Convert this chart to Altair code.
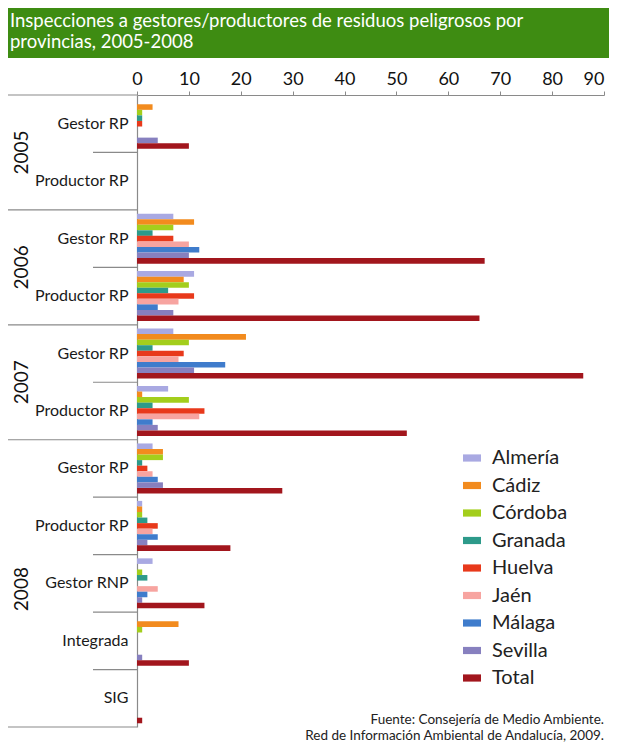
import altair as alt
import pandas as pd

provinces = ["Almería", "Cádiz", "Córdoba", "Granada", "Huelva", "Jaén", "Málaga", "Sevilla", "Total"]
colors = ["#a9a9e2", "#f28b1e", "#a3ce1c", "#2d9a8a", "#e8391b", "#f7a4a0", "#3f7ccc", "#8780bf", "#a2161d"]

categories = ["2005 Gestor RP", "2005 Productor RP", "2006 Gestor RP", "2006 Productor RP",
              "2007 Gestor RP", "2007 Productor RP", "2008 Gestor RP", "2008 Productor RP",
              "2008 Gestor RNP", "2008 Integrada", "2008 SIG"]

v_2005_gestor_rp = [0, 3, 1, 1, 1, 0, 0, 4, 10]
v_2005_productor_rp = [0, 0, 0, 0, 0, 0, 0, 0, 0]
v_2006_gestor_rp = [7, 11, 7, 3, 7, 10, 12, 10, 67]
v_2006_productor_rp = [11, 9, 10, 6, 11, 8, 4, 7, 66]
v_2007_gestor_rp = [7, 21, 10, 3, 9, 8, 17, 11, 86]
v_2007_productor_rp = [6, 1, 10, 3, 13, 12, 3, 4, 52]
v_2008_gestor_rp = [3, 5, 5, 1, 2, 3, 4, 5, 28]
v_2008_productor_rp = [1, 1, 1, 2, 4, 3, 4, 2, 18]
v_2008_gestor_rnp = [3, 0, 1, 2, 0, 4, 2, 1, 13]
v_2008_integrada = [0, 8, 1, 0, 0, 0, 0, 1, 10]
v_2008_sig = [0, 0, 0, 0, 0, 0, 0, 0, 1]

all_values = [v_2005_gestor_rp, v_2005_productor_rp, v_2006_gestor_rp, v_2006_productor_rp,
              v_2007_gestor_rp, v_2007_productor_rp, v_2008_gestor_rp, v_2008_productor_rp,
              v_2008_gestor_rnp, v_2008_integrada, v_2008_sig]

x_ticks = [0, 10, 20, 30, 40, 50, 60, 70, 80, 90]

year_starts = ["2005 Gestor RP", "2006 Gestor RP", "2007 Gestor RP", "2008 Gestor RP"]
inner_starts = ["2005 Productor RP", "2006 Productor RP", "2007 Productor RP",
                "2008 Productor RP", "2008 Gestor RNP", "2008 Integrada", "2008 SIG"]
years_two = ["2005", "2006", "2007"]
years_two_anchor = ["2005 Gestor RP", "2006 Gestor RP", "2007 Gestor RP"]
title_lines = ["Inspecciones a gestores/productores de residuos peligrosos por",
               "provincias, 2005-2008"]
footer_lines = ["Fuente: Consejería de Medio Ambiente.",
                "Red de Información Ambiental de Andalucía, 2009."]

FONT = "Lato"
W, H = 467, 632

rows = []
for c, vals in zip(categories, all_values):
    for p, v in zip(provinces, vals):
        rows.append({"cat": c, "prov": p, "value": v})
df = pd.DataFrame(rows)

yscale = alt.Scale(domain=categories, paddingInner=0, paddingOuter=0)
yaxis = alt.Axis(title=None, ticks=False, domainColor="#8a8a8a", domainWidth=1.2,
                 labelExpr="slice(datum.label, 5)", labelFontSize=16,
                 labelFont=FONT, labelColor="#1a1a1a", labelPadding=9)

bars = alt.Chart(df).mark_bar().encode(
    x=alt.X("value:Q", scale=alt.Scale(domain=[0, 90], nice=False),
            axis=alt.Axis(orient="top", values=x_ticks, title=None, grid=False,
                          domainColor="#8a8a8a", tickColor="#8a8a8a", tickSize=4,
                          labelFontSize=18, labelFont=FONT, labelColor="#111111",
                          labelPadding=3,
                          labelAlign=alt.condition("datum.value == 90", alt.value("right"),
                                                   alt.value("center")))),
    y=alt.Y("cat:N", scale=yscale, axis=yaxis),
    yOffset=alt.YOffset("prov:N", sort=provinces,
                        scale=alt.Scale(domain=provinces, paddingInner=0, paddingOuter=0.67)),
    color=alt.Color("prov:N", sort=provinces,
                    scale=alt.Scale(domain=provinces, range=colors),
                    legend=alt.Legend(orient="none", legendX=325, legendY=353, title=None,
                                      symbolType="M-1,-0.4H1V0.4H-1Z", symbolSize=324,
                                      symbolStrokeWidth=0, labelFontSize=20, labelFont=FONT,
                                      labelColor="#222222", rowPadding=7.5, labelOffset=10)),
)

year_rules = alt.Chart(pd.DataFrame({"cat": year_starts})).mark_rule(
    color="#8a8a8a", strokeWidth=1.2).encode(
    y=alt.Y("cat:N", scale=yscale, bandPosition=0, axis=yaxis),
    x=alt.value(-137), x2=alt.value(0))

bottom_rule = alt.Chart(pd.DataFrame({"cat": ["2008 SIG"]})).mark_rule(
    color="#8a8a8a", strokeWidth=1.2).encode(
    y=alt.Y("cat:N", scale=yscale, bandPosition=1, axis=yaxis),
    x=alt.value(-137), x2=alt.value(0))

inner_rules = alt.Chart(pd.DataFrame({"cat": inner_starts})).mark_rule(
    color="#8a8a8a", strokeWidth=1.2).encode(
    y=alt.Y("cat:N", scale=yscale, bandPosition=0, axis=yaxis),
    x=alt.value(-44), x2=alt.value(0))

year_text_a = alt.Chart(pd.DataFrame({"cat": years_two_anchor, "year": years_two})).mark_text(
    angle=270, fontSize=19, font=FONT, color="#111111", align="center", baseline="middle").encode(
    y=alt.Y("cat:N", scale=yscale, bandPosition=1, axis=yaxis),
    x=alt.value(-115), text="year:N")

year_text_b = alt.Chart(pd.DataFrame({"cat": ["2008 Gestor RNP"], "year": ["2008"]})).mark_text(
    angle=270, fontSize=19, font=FONT, color="#111111", align="center", baseline="middle").encode(
    y=alt.Y("cat:N", scale=yscale, bandPosition=0.6, axis=yaxis),
    x=alt.value(-115), text="year:N")

banner = alt.Chart(pd.DataFrame({"k": [0]})).mark_rect(color="#3e8c12").encode(
    x=alt.value(-129), x2=alt.value(472), y=alt.value(-87), y2=alt.value(-37))

title1 = alt.Chart(pd.DataFrame({"t": [title_lines[0]]})).mark_text(
    align="left", baseline="alphabetic", fontSize=18.5, font=FONT, color="white").encode(
    x=alt.value(-127), y=alt.value(-68), text="t:N")
title2 = alt.Chart(pd.DataFrame({"t": [title_lines[1]]})).mark_text(
    align="left", baseline="alphabetic", fontSize=18.5, font=FONT, color="white").encode(
    x=alt.value(-127), y=alt.value(-47), text="t:N")

foot1 = alt.Chart(pd.DataFrame({"t": [footer_lines[0]]})).mark_text(
    align="right", baseline="alphabetic", fontSize=13.5, font=FONT, color="#222222").encode(
    x=alt.value(W), y=alt.value(629), text="t:N")
foot2 = alt.Chart(pd.DataFrame({"t": [footer_lines[1]]})).mark_text(
    align="right", baseline="alphabetic", fontSize=13.5, font=FONT, color="#222222").encode(
    x=alt.value(W), y=alt.value(645), text="t:N")

chart = alt.layer(
    banner, title1, title2, bars, year_rules, bottom_rule, inner_rules,
    year_text_a, year_text_b, foot1, foot2
).properties(
    width=W, height=H,
    autosize=alt.AutoSizeParams(type="none"),
    padding={"left": 129, "top": 87, "right": 5, "bottom": 15},
    background="white",
).configure_view(stroke=None)

chart.save("out.html", embed_options={"renderer": "svg", "actions": False})
